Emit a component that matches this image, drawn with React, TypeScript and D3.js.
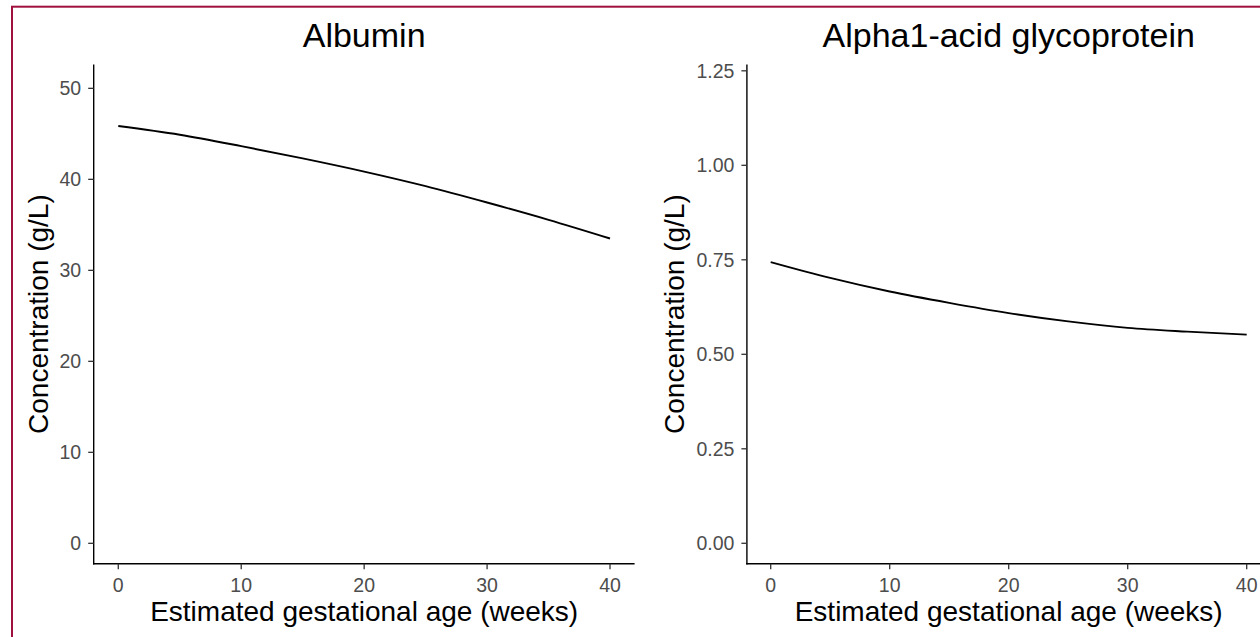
import React from "react";
import * as d3 from "d3";

// ---- Data ----
const weeks = [0, 5, 10, 15, 20, 25, 30, 35, 40];
const albumin = [45.86, 44.9, 43.65, 42.3, 40.85, 39.25, 37.45, 35.55, 33.5];
const agp = [0.744, 0.702, 0.666, 0.636, 0.609, 0.587, 0.57, 0.56, 0.552];

const xTicks = [0, 10, 20, 30, 40];
const albuminTicks = [0, 10, 20, 30, 40, 50];
const agpTicks = [0, 0.25, 0.5, 0.75, 1.0, 1.25];

const titles = ["Albumin", "Alpha1-acid glycoprotein"];
const xTitle = "Estimated gestational age (weeks)";
const yTitle = "Concentration (g/L)";

const FONT = "'Liberation Sans', Arial, Helvetica, sans-serif";

type PanelProps = {
  title: string;
  values: number[];
  yTicks: number[];
  yDomain: [number, number];
  yFormat: (v: number) => string;
  left: number;
  right: number;
  yTitleX: number;
};

const TOP = 64.5;
const BOTTOM = 563.7;

function Panel({ title, values, yTicks, yDomain, yFormat, left, right, yTitleX }: PanelProps) {
  const x = d3.scaleLinear().domain([-2, 42]).range([left, right]);
  const y = d3.scaleLinear().domain(yDomain).range([BOTTOM, TOP]);
  const line = d3
    .line<number>()
    .x((_, i) => x(weeks[i]))
    .y((d) => y(d))
    .curve(d3.curveMonotoneX);
  const cx = (left + right) / 2;
  return (
    <g>
      <text x={cx} y={46.7} textAnchor="middle" fontSize={34} fill="#000" fontFamily={FONT}>
        {title}
      </text>
      {/* axes */}
      <line x1={left} x2={left} y1={TOP} y2={BOTTOM + 0.7} stroke="#000" strokeWidth={1.4} />
      <line x1={left - 0.7} x2={right} y1={BOTTOM} y2={BOTTOM} stroke="#000" strokeWidth={1.4} />
      {yTicks.map((t) => (
        <g key={"y" + t}>
          <line x1={left - 5.5} x2={left} y1={y(t)} y2={y(t)} stroke="#333" strokeWidth={1.3} />
          <text
            x={left - 12.5}
            y={y(t)}
            dy="0.35em"
            textAnchor="end"
            fontSize={19.5}
            fill="#4D4D4D"
            fontFamily={FONT}
          >
            {yFormat(t)}
          </text>
        </g>
      ))}
      {xTicks.map((t) => (
        <g key={"x" + t}>
          <line x1={x(t)} x2={x(t)} y1={BOTTOM} y2={BOTTOM + 5.5} stroke="#333" strokeWidth={1.3} />
          <text x={x(t)} y={591.8} textAnchor="middle" fontSize={19.5} fill="#4D4D4D" fontFamily={FONT}>
            {t}
          </text>
        </g>
      ))}
      <text x={cx} y={621} textAnchor="middle" fontSize={28} fill="#000" fontFamily={FONT}>
        {xTitle}
      </text>
      <text
        transform={`translate(${yTitleX},${(TOP + BOTTOM) / 2}) rotate(-90)`}
        textAnchor="middle"
        fontSize={28}
        fill="#000"
        fontFamily={FONT}
      >
        {yTitle}
      </text>
      <path d={line(values) ?? ""} fill="none" stroke="#000" strokeWidth={1.9} />
    </g>
  );
}

export default function App() {
  return (
    <svg
      width={1260}
      height={637}
      style={{ position: "absolute", left: 0, top: 0, background: "#fff" }}
    >
      <rect x={0} y={0} width={1260} height={637} fill="#fff" />
      <Panel
        title={titles[0]}
        values={albumin}
        yTicks={albuminTicks}
        yDomain={[-2.24, 52.62]}
        yFormat={(v) => String(v)}
        left={93.7}
        right={634.6}
        yTitleX={48}
      />
      <Panel
        title={titles[1]}
        values={agp}
        yTicks={agpTicks}
        yDomain={[-0.054, 1.2667]}
        yFormat={(v) => v.toFixed(2)}
        left={746.9}
        right={1270.5}
        yTitleX={684}
      />
      <rect x={12} y={6.7} width={1300} height={700} fill="none" stroke="#A0103F" strokeWidth={2} />
    </svg>
  );
}
